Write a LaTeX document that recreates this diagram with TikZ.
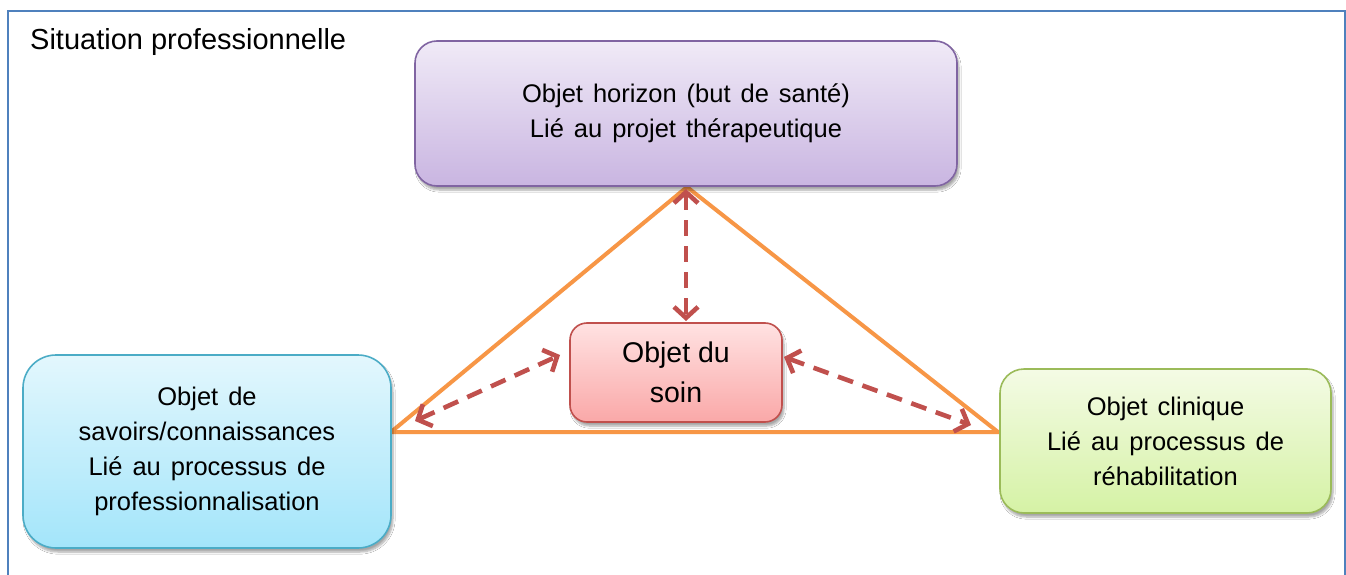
\documentclass[tikz,border=0pt]{standalone}
\usepackage{fontspec}
\setmainfont{Liberation Sans}
\usetikzlibrary{arrows.meta,shadows.blur}
\definecolor{framec}{HTML}{4F81BD}
\definecolor{purpleb}{HTML}{8064A2}
\definecolor{purplet}{HTML}{F0EAF7}
\definecolor{purpleo}{HTML}{C9B5E1}
\definecolor{blueb}{HTML}{4BACC6}
\definecolor{bluet}{HTML}{E3F7FD}
\definecolor{blueo}{HTML}{A3E5FA}
\definecolor{greenb}{HTML}{9BBB59}
\definecolor{greent}{HTML}{F4FBE5}
\definecolor{greeno}{HTML}{D5F2A5}
\definecolor{redb}{HTML}{C0504D}
\definecolor{redt}{HTML}{FFE2E2}
\definecolor{redo}{HTML}{FAA8A8}
\definecolor{orangec}{HTML}{F79646}
\newcommand{\myboxfont}{\fontsize{25.5}{35}\selectfont\spaceskip=10pt plus 2pt minus 1pt\relax}
\tikzset{
  objbox/.style={draw, line width=1.6pt, align=center, inner sep=0pt,
    blur shadow={shadow xshift=2pt, shadow yshift=-4pt, shadow blur steps=6, shadow opacity=35}},
  boxtext/.style={font=\myboxfont},
  tri/.style={draw=orangec, line width=4pt, line join=miter},
  link/.style={draw=redb, line width=4.6pt, dash pattern=on 16pt off 10pt,
    {Straight Barb[length=11pt,width=24pt]}-{Straight Barb[length=11pt,width=24pt]}},
}
\begin{document}
\begin{tikzpicture}[x=1pt,y=-1pt]
\useasboundingbox (0,0) rectangle (1346,575);
\fill[white] (0,0) rectangle (1346,575);
% frame
\draw[framec, line width=2.2pt] (8,580) -- (8,11) -- (1345,11) -- (1345,580);
\node[anchor=base west, font=\fontsize{29}{34}\selectfont, inner sep=0pt] (title) at (30,50) {Situation professionnelle};
% triangle corners
\coordinate (A) at (687,187);
\coordinate (L) at (391,432);
\coordinate (R) at (998,432);
\draw[tri] (A) -- (L) -- (R) -- cycle;
% boxes
\node[objbox, boxtext, draw=purpleb, top color=purplet, bottom color=purpleo, rounded corners=22pt,
  minimum width=542pt, minimum height=145pt] (top) at (686,113.5)
  {Objet horizon (but de santé)\\Lié au projet thérapeutique};
\node[objbox, boxtext, draw=blueb, top color=bluet, bottom color=blueo, rounded corners=33pt,
  minimum width=368pt, minimum height=193pt] (left) at (207,451.5)
  {Objet de\\savoirs/connaissances\\Lié au processus de\\professionnalisation};
\node[objbox, boxtext, draw=greenb, top color=greent, bottom color=greeno, rounded corners=24pt,
  minimum width=331pt, minimum height=144pt] (right) at (1165.5,441)
  {Objet clinique\\Lié au processus de\\réhabilitation};
\node[objbox, font=\fontsize{28.5}{40}\selectfont, draw=redb, top color=redt, bottom color=redo, rounded corners=17pt,
  minimum width=212pt, minimum height=99pt] (soin) at (676,372.5)
  {Objet du\\soin};
% arrow end points
\coordinate (vt) at (686,189);
\coordinate (vb) at (686,321);
\coordinate (lt) at (415,421);
\coordinate (lb) at (560,355);
\coordinate (rt) at (784,357);
\coordinate (rb) at (971,425);
\draw[link] (vt) -- (vb);
\draw[link] (lt) -- (lb);
\draw[link] (rt) -- (rb);
\end{tikzpicture}
\end{document}
